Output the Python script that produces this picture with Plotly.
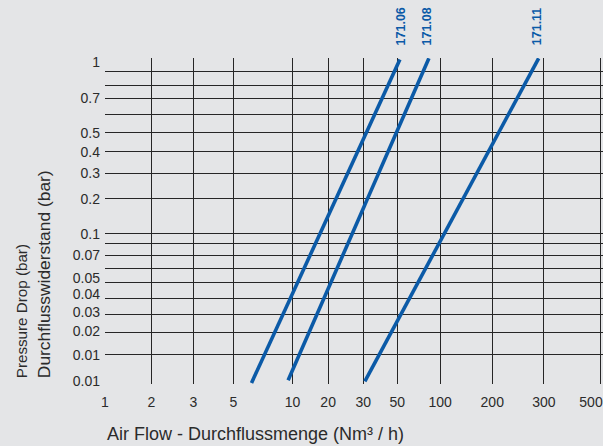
import plotly.graph_objects as go

# ---------------- data (chart's own, non-uniform scale; units = position on the printed grid) -------------
x_labels = ['1', '2', '3', '5', '10', '20', '30', '50', '100', '200', '300', '500']
x_label_pos = [0, 46.4, 88.4, 128.4, 187.4, 223.0, 258.0, 292.0, 335.0, 387.0, 438.7, 485.7]
x_grid_pos = [0, 46.4, 88.4, 128.4, 187.4, 223.0, 258.0, 292.0, 335.0, 387.0, 438.7, 495.4]

y_labels = ['1', '0.7', '0.5', '0.4', '0.3', '0.2', '0.1', '0.07', '0.05', '0.04', '0.03', '0.02', '0.01', '0.01']
y_label_pos = [321.7, 286.0, 251.0, 232.0, 210.7, 184.7, 149.7, 129.4, 106.4, 89.7, 72.0, 52.7, 28.7, 2.7]
y_grid_pos = [326.0, 313.0, 299.0, 285.4, 269.4, 251.4, 233.0, 210.7, 185.7, 151.0, 140.4, 129.0,
              115.4, 101.7, 86.0, 70.0, 52.0, 29.4, 0.0]

series_names = ['171.06', '171.08', '171.11']
series_x_start = [146.4, 183.0, 259.7]
series_x_end = [294.7, 323.7, 433.4]
series_y_start = [1.0, 3.7, 2.7]
series_y_end = [324.4, 325.7, 325.7]
label_x = [295.7, 321.7, 431.4]

# ---------------- styling ----------------
BG = '#e4e5e7'
BLUE = '#0b5aa7'
GRID = '#262626'
TXT = '#2b2b2b'
FONT = 'Liberation Sans, Arial, sans-serif'
X_RANGE = [0, 497.7]
Y_RANGE = [0, 326.0]

fig = go.Figure()
for name, x0, x1, y0, y1 in zip(series_names, series_x_start, series_x_end, series_y_start, series_y_end):
    fig.add_trace(go.Scatter(x=[x0, x1], y=[y0, y1], mode='lines', name=name,
                             line=dict(color=BLUE, width=3.6), showlegend=False, hoverinfo='skip'))

# invisible trace to register the label axes
fig.add_trace(go.Scatter(x=[None], y=[None], xaxis='x2', yaxis='y2', showlegend=False, hoverinfo='skip'))

for name, lx in zip(series_names, label_x):
    fig.add_annotation(x=lx, xref='x', y=1.032, yref='paper', text='<b>%s</b>' % name,
                       textangle=-90, showarrow=False, xanchor='center', yanchor='bottom',
                       font=dict(family=FONT, size=12.5, color=BLUE))

fig.add_annotation(x=0.0, xref='paper', y=-0.152, yref='paper', text='Air Flow - Durchflussmenge (Nm³ / h)',
                   showarrow=False, xanchor='left', yanchor='middle',
                   font=dict(family=FONT, size=18, color=TXT))
fig.add_annotation(x=-0.167, xref='paper', y=0.011, yref='paper', text='Pressure Drop (bar)',
                   textangle=-90, showarrow=False, xanchor='center', yanchor='bottom',
                   font=dict(family=FONT, size=15.2, color=TXT))
fig.add_annotation(x=-0.121, xref='paper', y=0.011, yref='paper', text='Durchflusswiderstand (bar)',
                   textangle=-90, showarrow=False, xanchor='center', yanchor='bottom',
                   font=dict(family=FONT, size=17.4, color=TXT))

fig.update_layout(
    width=603, height=446, autosize=False,
    margin=dict(l=105, r=0, t=58, b=62),
    paper_bgcolor=BG, plot_bgcolor=BG,
    font=dict(family=FONT, size=14, color=TXT),
    xaxis=dict(range=X_RANGE, tickmode='array', tickvals=x_grid_pos, showticklabels=False,
               showgrid=True, gridcolor=GRID, gridwidth=1.3, zeroline=False, ticks='',
               showline=False, fixedrange=True),
    yaxis=dict(range=Y_RANGE, tickmode='array', tickvals=y_grid_pos, showticklabels=False,
               showgrid=True, gridcolor=GRID, gridwidth=1.3, zeroline=False, ticks='',
               showline=False, fixedrange=True),
    xaxis2=dict(range=X_RANGE, overlaying='x', side='bottom', anchor='y2', tickmode='array',
                tickvals=x_label_pos, ticktext=x_labels, showgrid=False, zeroline=False, ticks='',
                ticklabelstandoff=8, ticklabeloverflow='allow',
                tickfont=dict(family=FONT, size=14, color=TXT), fixedrange=True),
    yaxis2=dict(range=Y_RANGE, overlaying='y', side='left', anchor='x2', tickmode='array',
                tickvals=y_label_pos, ticktext=y_labels, showgrid=False, zeroline=False, ticks='',
                ticklabelstandoff=4, ticklabeloverflow='allow',
                tickfont=dict(family=FONT, size=14, color=TXT), fixedrange=True),
)

# remove the browser's default 8px body margin so the figure fills the window exactly
fig.write_html('out.html', config={'displayModeBar': False},
               post_script="document.body.style.margin='0';document.body.style.overflow='hidden';")
